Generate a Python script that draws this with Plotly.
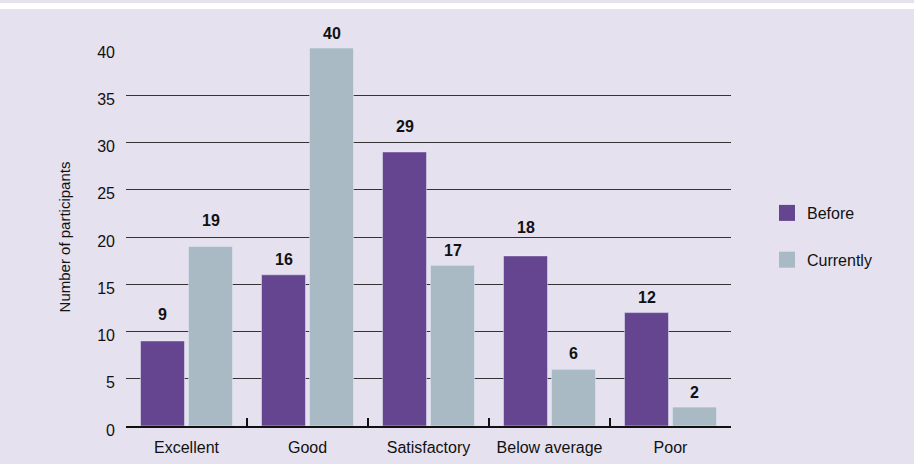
import plotly.graph_objects as go

categories = ["Excellent", "Good", "Satisfactory", "Below average", "Poor"]
before = [9, 16, 29, 18, 12]
currently = [19, 40, 17, 6, 2]
y_ticks = [0, 5, 10, 15, 20, 25, 30, 35, 40]

# how far each value label sits above its bar (px), as in the original
lift_before = [26, 15, 25, 28, 15]
lift_currently = [26, 15, 15, 16, 15]

PURPLE = "#654590"
GREY = "#aabac5"
BG = "#e5e1ef"
FONT = "Liberation Sans, Arial, sans-serif"

# plot area in pixels, used to place the page decorations
L, R, T, B = 126, 731, 48, 426
W, H = R - L, B - T


def px_x(p):
    return (p - L) / W


def px_y(p):
    return (B - p) / H


fig = go.Figure()
fig.add_trace(go.Bar(x=categories, y=before, name="Before", marker_color=PURPLE,
                     showlegend=False, hoverinfo="skip"))
fig.add_trace(go.Bar(x=categories, y=currently, name="Currently", marker_color=GREY,
                     showlegend=False, hoverinfo="skip"))

# legend proxies with bigger squares
for name, col in [("Before", PURPLE), ("Currently", GREY)]:
    fig.add_trace(go.Scatter(x=[None], y=[None], mode="markers", name=name, legendgroup=name,
                             marker=dict(symbol="square", size=16, color=col)))

for vals, lifts, shift in [(before, lift_before, -24), (currently, lift_currently, 24)]:
    for c, v, lift in zip(categories, vals, lifts):
        fig.add_annotation(x=c, y=v, text=f"<b>{v}</b>", showarrow=False, xshift=shift,
                           yshift=lift, yanchor="middle", font=dict(size=16, color="#111"))

fig.update_layout(
    width=920, height=464,
    margin=dict(l=L, r=920 - R, t=T, b=464 - B),
    paper_bgcolor=BG, plot_bgcolor="rgba(0,0,0,0)",
    font=dict(family=FONT, size=16, color="#111"),
    barmode="group", bargap=0.207, bargroupgap=0.083,
    legend=dict(x=px_x(767), y=px_y(196), xanchor="left", yanchor="top",
                tracegroupgap=23, itemsizing="trace", font=dict(size=16),
                bgcolor="rgba(0,0,0,0)"),
    shapes=[
        dict(type="rect", xref="paper", yref="paper", x0=px_x(-5), x1=px_x(925),
             y0=px_y(9), y1=px_y(3), fillcolor="white", line_width=0, layer="below"),
        dict(type="rect", xref="paper", yref="paper", x0=px_x(914), x1=px_x(925),
             y0=px_y(470), y1=px_y(-5), fillcolor="white", line_width=0, layer="below"),
    ],
)
fig.update_xaxes(showline=True, linecolor="#111", linewidth=1.5, ticks="inside",
                 tickson="boundaries", ticklen=8, tickcolor="#111", tickwidth=1.5,
                 tickangle=0, ticklabelstandoff=6, showgrid=False, automargin=False)
fig.update_yaxes(range=[0, 40], tickvals=y_ticks, showgrid=True, gridcolor="#333",
                 gridwidth=1, zeroline=False, ticks="", ticklabelstandoff=10,
                 ticklabelshift=4, automargin=False,
                 title=dict(text="Number of participants", font=dict(size=15), standoff=22))

# drop the page's default body margin so the figure sits at the window origin
fig.write_html("out.html", config={"displayModeBar": False},
               post_script="document.body.style.margin='0';")
